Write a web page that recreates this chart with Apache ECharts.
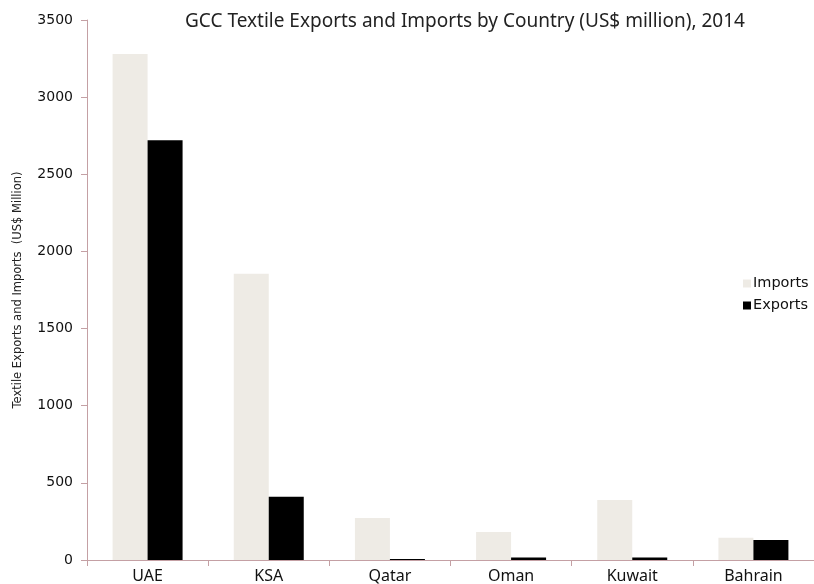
<!DOCTYPE html>
<html>
<head>
<meta charset="utf-8">
<script src="https://cdn.jsdelivr.net/npm/echarts@6/dist/echarts.min.js"></script>
<style>
  html, body { margin: 0; padding: 0; background: #fff; }
  #main { width: 814px; height: 584px; }
</style>
</head>
<body>
<div id="main"></div>
<script>
// data
const countries = ['UAE', 'KSA', 'Qatar', 'Oman', 'Kuwait', 'Bahrain'];
const imports = [3280, 1856, 272, 181, 389, 145];
const exports = [2720, 410, 6, 17, 17, 130];

const axisColor = '#c4a0a4';

const chart = echarts.init(document.getElementById('main'));
chart.setOption({
    animation: false,
    backgroundColor: '#fff',
    title: {
        text: 'GCC Textile Exports and Imports by Country (US$ million), 2014',
        left: 180,
        top: 7,
        textStyle: { fontFamily: 'Noto Sans', fontSize: 19, fontWeight: 'normal', color: '#222' }
    },
    legend: {
        orient: 'vertical',
        left: 738,
        top: 271,
        itemWidth: 8,
        itemHeight: 8,
        itemGap: 7,
        icon: 'rect',
        textStyle: { fontFamily: 'DejaVu Sans', fontSize: 14.5, color: '#111', padding: [0, 0, 0, -3] },
        data: ['Imports', 'Exports']
    },
    grid: { left: 87, right: -9, top: 20, bottom: 24, containLabel: false },
    xAxis: {
        type: 'category',
        data: countries,
        axisLine: { lineStyle: { color: axisColor } },
        axisTick: { show: true, length: 6, lineStyle: { color: axisColor } },
        axisLabel: { fontFamily: 'Noto Sans', fontSize: 16, color: '#111', margin: 8 }
    },
    yAxis: {
        type: 'value',
        min: 0,
        max: 3500,
        interval: 500,
        name: 'Textile Exports and Imports  (US$ Million)',
        nameLocation: 'middle',
        nameGap: 63,
        nameTextStyle: { fontFamily: 'DejaVu Sans', fontSize: 11.5, color: '#222' },
        axisLine: { show: true, lineStyle: { color: axisColor } },
        axisTick: { show: true, length: 6, lineStyle: { color: axisColor } },
        axisLabel: {
            fontFamily: 'DejaVu Sans', fontSize: 14, color: '#111', margin: 14,
            formatter: function (v) { return String(v); }
        },
        splitLine: { show: false }
    },
    series: [
        {
            name: 'Imports',
            type: 'bar',
            data: imports,
            barWidth: 35,
            barGap: '0%',
            itemStyle: { color: '#eeebe5' }
        },
        {
            name: 'Exports',
            type: 'bar',
            data: exports,
            barWidth: 35,
            itemStyle: { color: '#000' }
        }
    ]
});
</script>
</body>
</html>
